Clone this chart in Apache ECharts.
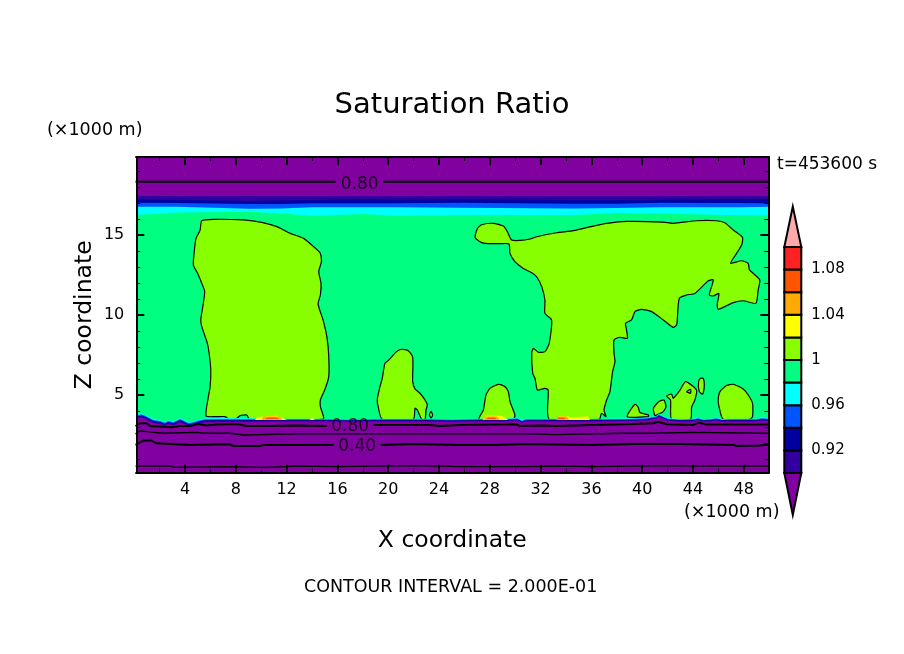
<!DOCTYPE html>
<html>
<head>
<meta charset="utf-8">
<style>html,body{margin:0;padding:0;background:#fff}#main{width:904px;height:654px}</style>
<script src="https://cdn.jsdelivr.net/npm/echarts@6/dist/echarts.min.js"></script>
</head>
<body>
<div id="main"></div>
<script>
// axis range and ticks, in units of 1000 m
var xMin = 0.165, xMax = 49.93, zMin = 0.144, zMax = 19.875;
var xMajorTicks = [4, 8, 12, 16, 20, 24, 28, 32, 36, 40, 44, 48];
var xMinorTicks = [2, 6, 10, 14, 18, 22, 26, 30, 34, 38, 42, 46];
var zMajorTicks = [5, 10, 15];
var zMinorTicks = [1, 2, 3, 4, 6, 7, 8, 9, 11, 12, 13, 14, 16, 17, 18, 19];

// colour bar
var barLevels = [0.90, 0.92, 0.94, 0.96, 0.98, 1.00, 1.02, 1.04, 1.06, 1.08, 1.10];
var barColors = ['#3300A0', '#0000A0', '#0055FF', '#00FFFF', '#00FF80', '#88FF00', '#FFFF00', '#FFAA00', '#FF5500', '#FF2222'];
var barTicks = [0.92, 0.96, 1, 1.04, 1.08];
var barTipLow = 0.8628, barTipHigh = 1.1357;
var colorBelow = '#8000A0', colorAbove = '#FFAAAA';

// contour 1.0 outlines [x, z]
var plumeLeft = [[5.66,3.69],[5.84,4.90],[5.98,5.52],[6.03,6.56],[5.90,7.61],[5.76,8.23],[5.32,9.27],[5.24,9.69],[5.40,10.52],[5.55,11.46],[5.32,11.98],[5.00,12.60],[4.66,13.12],[4.74,14.06],[4.87,14.79],[5.19,15.31],[5.32,15.89],[6.24,15.98],[8.61,15.94],[10.05,15.79],[11.24,15.52],[12.29,15.10],[13.34,14.79],[14.13,14.27],[14.66,13.85],[14.74,13.33],[14.53,12.71],[14.71,11.98],[14.66,11.25],[14.48,10.68],[14.87,9.69],[15.19,8.54],[15.32,7.40],[15.32,6.15],[15.05,5.42],[14.66,4.69],[14.66,4.27],[14.87,3.50],[9.08,3.48],[8.87,3.75],[8.34,3.71],[8.08,3.54],[7.50,3.48],[7.16,3.65],[6.50,3.65]];
var plumeSmall = [[19.53,3.48],[19.21,4.27],[19.14,4.73],[19.35,5.52],[19.53,6.04],[19.74,6.98],[20.00,7.15],[20.66,7.71],[21.06,7.86],[21.58,7.77],[21.93,7.36],[21.93,5.84],[22.11,5.38],[22.50,5.11],[22.90,4.69],[23.08,4.38],[22.98,4.07],[22.90,3.48],[22.64,3.48],[22.29,4.07],[22.11,4.17],[21.98,3.48]];
var dotSmall = [[23.25,3.75],[23.37,3.98],[23.50,3.75],[23.37,3.55]];
var plumeRight = [[26.84,14.85],[27.03,15.41],[27.36,15.64],[28.28,15.73],[29.07,15.56],[29.38,15.21],[29.72,14.69],[30.38,14.66],[31.17,14.75],[31.69,14.89],[33.26,15.14],[34.58,15.27],[36.15,15.56],[37.20,15.73],[38.77,15.85],[41.66,15.81],[42.44,15.73],[44.28,15.89],[45.86,15.89],[46.51,15.77],[47.17,15.31],[47.90,14.85],[47.83,14.37],[47.43,13.85],[46.96,13.23],[47.83,13.39],[48.35,13.23],[48.43,12.85],[48.74,12.60],[49.26,12.19],[49.13,11.56],[48.95,10.73],[47.96,10.89],[47.17,10.77],[45.98,10.35],[45.91,10.68],[46.04,11.35],[45.60,11.19],[45.28,11.25],[45.60,12.19],[45.21,12.14],[44.15,11.35],[43.49,11.25],[42.92,11.04],[42.76,9.69],[42.71,9.38],[42.44,9.23],[42.06,9.44],[41.66,9.69],[40.74,10.21],[39.95,10.35],[39.43,10.21],[39.16,9.69],[38.69,9.48],[38.77,9.06],[38.82,8.54],[38.25,8.61],[37.78,8.44],[37.78,7.61],[37.86,7.09],[37.67,6.46],[37.46,5.21],[37.20,4.69],[36.99,4.06],[37.15,3.65],[36.80,3.86],[36.62,3.48],[32.68,3.48],[32.60,5.31],[32.34,5.42],[31.75,5.31],[31.56,6.04],[31.38,6.36],[31.30,7.61],[31.43,7.92],[31.82,7.67],[32.34,7.71],[32.68,8.23],[32.87,9.69],[32.34,10.10],[32.34,10.94],[32.09,11.77],[31.69,12.39],[31.30,12.64],[30.64,12.91],[29.98,13.33],[29.59,13.85],[29.51,14.44],[28.81,14.46],[27.62,14.48],[27.23,14.58]];
var moundA = [[27.15,3.48],[27.49,4.06],[27.70,5.00],[28.02,5.42],[28.68,5.67],[29.20,5.52],[29.46,5.21],[29.59,4.59],[29.98,3.75],[29.85,3.48]];
var moundB = [[38.82,3.65],[39.43,4.42],[39.69,4.23],[39.82,3.90],[40.50,3.75],[40.48,3.65]];
var moundC = [[40.88,4.17],[41.00,3.71],[41.14,3.75],[41.66,3.96],[41.87,4.27],[41.72,4.69],[41.32,4.59]];
var moundD = [[42.31,3.48],[42.23,4.69],[41.92,4.94],[42.31,5.06],[42.44,4.79],[42.84,5.15],[43.02,5.36],[43.42,5.84],[44.28,5.31],[44.15,4.69],[43.89,4.23],[43.81,3.48]];
var moundDHole = [[43.49,5.21],[43.81,5.36],[43.81,5.11]];
var moundE = [[44.60,6.04],[44.44,5.84],[44.49,5.21],[44.76,5.06],[44.89,5.63],[44.81,6.04]];
var moundF = [[46.38,3.48],[46.06,4.23],[45.98,4.69],[46.12,5.21],[46.64,5.59],[47.17,5.67],[47.95,5.38],[48.35,5.00],[48.69,4.48],[48.69,3.65],[48.48,3.48]];

// warm patches just above the cloud base
var hotYellow = [
  [[9.53,3.44],[9.66,3.62],[11.24,3.71],[12.03,3.44]],
  [[13.83,3.44],[13.99,3.63],[14.23,3.44]],
  [[27.44,3.44],[27.76,3.71],[28.94,3.71],[29.47,3.44]],
  [[33.26,3.44],[33.39,3.67],[34.18,3.67],[34.31,3.60],[35.76,3.65],[35.89,3.44]]
];
var hotAmber = [
  [[10.02,3.46],[10.16,3.65],[11.47,3.65],[11.68,3.46]],
  [[27.54,3.46],[27.70,3.65],[28.60,3.65],[28.76,3.46]],
  [[33.26,3.46],[33.31,3.65],[34.05,3.65],[34.26,3.46]]
];
var hotOrange = [
  [[10.29,3.48],[10.47,3.60],[11.21,3.60],[11.42,3.48]],
  [[27.70,3.48],[27.86,3.60],[28.41,3.60],[28.54,3.48]],
  [[33.31,3.48],[33.39,3.60],[33.84,3.60],[33.95,3.48]]
];

// upper moist layer edge, lower limit of each colour
var topX = [0.1, 3.4, 9.1, 11.5, 14.0, 18.1, 20.7, 25.7, 34.6, 37.9, 41.4, 46.4, 47.7, 50.1];
var topCyan = [16.25, 16.41, 16.45, 16.35, 16.21, 16.31, 16.21, 16.25, 16.25, 16.37, 16.35, 16.25, 16.25, 16.25];
var topBlue = [16.77, 16.77, 16.64, 16.66, 16.73, 16.73, 16.73, 16.71, 16.66, 16.69, 16.73, 16.73, 16.73, 16.77];
var topDark = [17.02, 17.00, 16.93, 16.93, 16.98, 16.98, 16.98, 17.02, 16.96, 16.96, 17.02, 17.00, 17.00, 16.98];
var topIndigo = [17.25, 17.21, 17.12, 17.15, 17.19, 17.25, 17.21, 17.23, 17.19, 17.19, 17.21, 17.25, 17.25, 17.23];
var topPurple = [17.44, 17.44, 17.44, 17.44, 17.44, 17.44, 17.44, 17.44, 17.44, 17.44, 17.44, 17.44, 17.44, 17.44];

// lower dry layer edge, upper limit of each colour
var baseX = [0.1,0.58,0.98,1.5,2.03,2.42,2.69,3.08,3.61,3.87,4.27,4.66,5.05,5.58,7,9,11,13,15,17,19,21,23,25,27,29,30.2,30.5,30.9,33,35,37,39,40.4,41.15,41.3,42,43,44,44.4,44.8,45.4,45.8,46.3,47,49,49.4,50.1];
var baseCyan = [3.75,3.86,3.71,3.50,3.44,3.33,3.44,3.36,3.56,3.46,3.31,3.35,3.46,3.55,3.56,3.54,3.52,3.52,3.52,3.50,3.52,3.52,3.52,3.50,3.52,3.52,3.58,3.44,3.52,3.52,3.52,3.52,3.54,3.58,3.71,3.81,3.56,3.50,3.52,3.60,3.50,3.52,3.60,3.50,3.52,3.52,3.60,3.54];
var baseBlue = [3.69,3.80,3.65,3.44,3.38,3.27,3.38,3.30,3.50,3.40,3.25,3.29,3.40,3.49,3.50,3.48,3.48,3.48,3.48,3.46,3.48,3.48,3.48,3.46,3.48,3.48,3.53,3.39,3.48,3.48,3.48,3.48,3.50,3.54,3.67,3.77,3.52,3.46,3.48,3.55,3.46,3.48,3.55,3.46,3.48,3.48,3.55,3.50];
var baseDark = [3.63,3.74,3.59,3.38,3.32,3.21,3.32,3.24,3.44,3.34,3.19,3.23,3.34,3.43,3.44,3.43,3.44,3.44,3.44,3.42,3.44,3.44,3.44,3.42,3.44,3.44,3.49,3.35,3.44,3.44,3.44,3.44,3.46,3.50,3.63,3.73,3.48,3.42,3.44,3.50,3.42,3.44,3.50,3.42,3.44,3.44,3.50,3.46];
var baseIndigo = [3.57,3.68,3.53,3.32,3.26,3.15,3.26,3.18,3.38,3.28,3.13,3.17,3.28,3.37,3.38,3.38,3.40,3.40,3.40,3.38,3.40,3.40,3.40,3.38,3.40,3.40,3.45,3.31,3.40,3.40,3.40,3.40,3.42,3.46,3.59,3.69,3.44,3.38,3.40,3.46,3.38,3.40,3.46,3.38,3.40,3.40,3.46,3.42];
var basePurple = [3.50,3.60,3.46,3.25,3.19,3.08,3.19,3.11,3.31,3.21,3.06,3.10,3.21,3.30,3.31,3.33,3.35,3.35,3.35,3.33,3.35,3.35,3.35,3.33,3.35,3.35,3.40,3.26,3.35,3.35,3.35,3.35,3.37,3.41,3.54,3.64,3.39,3.33,3.35,3.41,3.33,3.35,3.41,3.33,3.35,3.35,3.41,3.37];

// labelled and plain contour lines
var line080TopLeft = [[0.1,18.33],[15.87,18.33]];
var line080TopRight = [[19.6,18.33],[50.1,18.33]];
var line080Left = [[0.1,3.06],[0.45,3.23],[0.98,3.23],[1.24,3.06],[2.29,3.02],[2.95,2.98],[3.61,3.06],[4.40,3.06],[5.05,3.19],[5.71,3.09],[6.50,3.15],[8.08,3.19],[8.87,3.06],[10.71,3.06],[12.82,3.09],[15.15,3.06]];
var line080Right = [[18.82,3.13],[23.28,3.13],[24.06,3.06],[25.64,3.13],[30.11,3.17],[30.38,3.06],[31.95,3.10],[33.26,3.06],[36.15,3.13],[38.77,3.17],[40.88,3.23],[41.27,3.33],[41.92,3.17],[44.02,3.13],[44.48,3.27],[45.06,3.15],[50.1,3.15]];
var line060 = [[0.1,2.57],[0.45,2.77],[0.98,2.71],[2.29,2.61],[4.92,2.67],[5.45,2.61],[7.55,2.61],[8.61,2.50],[12.82,2.57],[25.64,2.57],[30.90,2.57],[33.26,2.52],[38.52,2.61],[40.88,2.61],[44.02,2.67],[49.28,2.61],[50.1,2.61]];
var line040Left = [[0.1,1.88],[0.71,2.15],[1.37,2.15],[1.76,1.98],[4.40,1.88],[7.55,1.92],[7.82,1.81],[9.92,1.81],[10.18,1.88],[15.70,1.88]];
var line040Right = [[19.40,1.88],[22.03,1.94],[25.64,1.88],[28.28,1.88],[30.90,1.94],[35.89,1.88],[39.30,1.94],[42.92,1.94],[47.17,1.88],[47.43,1.81],[49.28,1.84],[50.1,1.92]];
var line020 = [[0.1,0.56],[2.82,0.56],[3.21,0.48],[7.29,0.52],[10.18,0.48],[12.82,0.56],[15.96,0.52],[22.03,0.58],[25.64,0.52],[30.90,0.52],[33.52,0.56],[36.15,0.52],[39.30,0.56],[42.92,0.58],[44.02,0.56],[50.1,0.56]];

// inline contour labels [x, z, text]
var contourLabels = [[17.76, 18.18, '0.80'], [17.00, 3.00, '0.80'], [17.55, 1.75, '0.40']];

var FONT = '"DejaVu Sans"';

function toPairs(xs, zs) {
  return xs.map(function (x, i) { return [x, zs[i]]; });
}
function band(xs, zs, edge) {
  return toPairs(xs, zs).concat([[50.1, edge], [0.1, edge]]);
}

// painted back to front
var layers = [];
function addLayer(points, color, outlined) {
  layers.push({ points: points, color: color, outlined: !!outlined });
}
addLayer([[0.1, 0.1], [50.1, 0.1], [50.1, 20], [0.1, 20]], '#00FF80');
[plumeLeft, plumeSmall, dotSmall, plumeRight, moundA, moundB, moundC, moundD, moundE, moundF].forEach(function (p) {
  addLayer(p, '#88FF00', true);
});
addLayer(moundDHole, '#00FF80', true);
addLayer(band(topX, topCyan, 20), '#00FFFF');
addLayer(band(topX, topBlue, 20), '#0055FF');
addLayer(band(topX, topDark, 20), '#0000A0');
addLayer(band(topX, topIndigo, 20), '#3300A0');
addLayer(band(topX, topPurple, 20), '#8000A0');
addLayer(band(baseX, baseCyan, 0.1), '#00FFFF');
addLayer(band(baseX, baseBlue, 0.1), '#0055FF');
addLayer(band(baseX, baseDark, 0.1), '#0000A0');
addLayer(band(baseX, baseIndigo, 0.1), '#3300A0');
addLayer(band(baseX, basePurple, 0.1), '#8000A0');
hotYellow.forEach(function (p) { addLayer(p, '#FFFF00'); });
hotAmber.forEach(function (p) { addLayer(p, '#FFAA00'); });
hotOrange.forEach(function (p) { addLayer(p, '#FF5500'); });

var barCells = barColors.map(function (c, i) { return { level: i, color: c }; });

function renderLayer(params, api) {
  var l = layers[params.dataIndex];
  return {
    type: 'polygon',
    shape: { points: l.points.map(function (p) { return api.coord(p); }), smooth: l.outlined ? 0.2 : 0 },
    style: { fill: l.color, stroke: l.outlined ? '#000' : null, lineWidth: 1.2 }
  };
}
function renderBar(params, api) {
  var i = params.dataIndex;
  var pts;
  if (i < barCells.length) {
    var lo = barLevels[i], hi = barLevels[i + 1];
    pts = [[0, lo], [1, lo], [1, hi], [0, hi]];
    return {
      type: 'polygon',
      shape: { points: pts.map(function (p) { return api.coord(p); }) },
      style: { fill: barCells[i].color, stroke: '#000', lineWidth: 2 }
    };
  }
  var up = i === barCells.length;
  pts = up
    ? [[0, barLevels[10]], [1, barLevels[10]], [0.5, barTipHigh]]
    : [[0, barLevels[0]], [1, barLevels[0]], [0.5, barTipLow]];
  return {
    type: 'polygon',
    shape: { points: pts.map(function (p) { return api.coord(p); }) },
    style: { fill: up ? colorAbove : colorBelow, stroke: '#000', lineWidth: 2 }
  };
}

function lineSeries(data, width) {
  return {
    type: 'line', data: data, showSymbol: false, symbol: 'none', silent: true, z: 4,
    clip: true, lineStyle: { color: '#000', width: width }
  };
}

function xAxisOf(ticks, position, len, width, extra) {
  return Object.assign({
    type: 'value', gridIndex: 0, min: xMin, max: xMax, position: position, z: 6,
    splitLine: { show: false }, axisLine: { show: true, onZero: false, lineStyle: { color: '#000', width: 2 } },
    axisTick: { show: true, inside: true, length: len, customValues: ticks, lineStyle: { color: '#000', width: width } },
    axisLabel: { show: false }
  }, extra || {});
}
function yAxisOf(ticks, position, len, width, extra) {
  return Object.assign({
    type: 'value', gridIndex: 0, min: zMin, max: zMax, position: position, z: 6,
    splitLine: { show: false }, axisLine: { show: true, onZero: false, lineStyle: { color: '#000', width: 2 } },
    axisTick: { show: true, inside: true, length: len, customValues: ticks, lineStyle: { color: '#000', width: width } },
    axisLabel: { show: false }
  }, extra || {});
}

var chart = echarts.init(document.getElementById('main'));
chart.setOption({
  animation: false,
  backgroundColor: '#fff',
  textStyle: { fontFamily: FONT, color: '#000' },
  title: {
    text: 'Saturation Ratio', left: 'center', top: 86,
    textStyle: { fontFamily: FONT, fontSize: 29, fontWeight: 'normal', color: '#000' }
  },
  graphic: [
    { type: 'text', left: 47, top: 121, style: { text: '(\u00d71000 m)', font: '17.5px ' + FONT, fill: '#000' } },
    { type: 'text', left: 684, top: 503, style: { text: '(\u00d71000 m)', font: '17.5px ' + FONT, fill: '#000' } },
    { type: 'text', left: 777, top: 156, style: { text: 't=453600 s', font: '17px ' + FONT, fill: '#000' } },
    { type: 'text', left: 304, top: 578, style: { text: 'CONTOUR INTERVAL = 2.000E-01', font: '17.5px ' + FONT, fill: '#000' } }
  ],
  grid: [
    { left: 136.3, right: 135.7, top: 157, bottom: 181.3 },
    { left: 784.3, right: 102.7, top: 247, bottom: 181 }
  ],
  xAxis: [
    xAxisOf(xMajorTicks, 'bottom', 8, 2, {
      axisLabel: { show: true, customValues: xMajorTicks, margin: 9, fontSize: 16, fontFamily: FONT, color: '#000' },
      name: 'X coordinate', nameLocation: 'middle', nameGap: 56,
      nameTextStyle: { fontFamily: FONT, fontSize: 23.5, color: '#000' }
    }),
    xAxisOf(xMinorTicks, 'bottom', 4, 1),
    xAxisOf(xMajorTicks, 'top', 8, 2),
    xAxisOf(xMinorTicks, 'top', 4, 1),
    { type: 'value', gridIndex: 1, min: 0, max: 1, show: false }
  ],
  yAxis: [
    yAxisOf(zMajorTicks, 'left', 8, 2, {
      axisLabel: { show: true, customValues: zMajorTicks, margin: 12, padding: [5, 0, 0, 0], fontSize: 16, fontFamily: FONT, color: '#000' },
      name: 'Z coordinate', nameLocation: 'middle', nameGap: 39, nameMoveOverlap: false,
      nameTextStyle: { fontFamily: FONT, fontSize: 23.5, color: '#000' }
    }),
    yAxisOf(zMinorTicks, 'left', 4, 1),
    yAxisOf(zMajorTicks, 'right', 8, 2),
    yAxisOf(zMinorTicks, 'right', 4, 1),
    {
      type: 'value', gridIndex: 1, min: barLevels[0], max: barLevels[10], position: 'right',
      splitLine: { show: false }, axisLine: { show: false }, axisTick: { show: false },
      axisLabel: { show: true, customValues: barTicks, margin: 10, padding: [5, 0, 0, 0], fontSize: 15, fontFamily: FONT, color: '#000' }
    }
  ],
  series: [
    {
      type: 'custom', silent: true, clip: true, z: 2, xAxisIndex: 0, yAxisIndex: 0,
      renderItem: renderLayer, data: layers.map(function (l, i) { return [i]; }),
      encode: { x: -1, y: -1 }
    },
    lineSeries(line080TopLeft, 2),
    lineSeries(line080TopRight, 2),
    lineSeries(line080Left, 2),
    lineSeries(line080Right, 2),
    lineSeries(line060, 1.3),
    lineSeries(line040Left, 2),
    lineSeries(line040Right, 2),
    lineSeries(line020, 1.3),
    {
      type: 'scatter', silent: true, z: 5, symbolSize: 1, itemStyle: { color: 'transparent' }, data: contourLabels,
      label: {
        show: true, position: 'inside', fontSize: 17, fontFamily: FONT, color: '#000',
        formatter: function (p) { return p.data[2]; }
      }
    },
    {
      type: 'custom', silent: true, z: 2, xAxisIndex: 4, yAxisIndex: 4,
      renderItem: renderBar, data: barCells.concat([{}, {}]).map(function (c, i) { return [i]; }),
      encode: { x: -1, y: -1 }
    }
  ]
});
</script>
</body>
</html>
